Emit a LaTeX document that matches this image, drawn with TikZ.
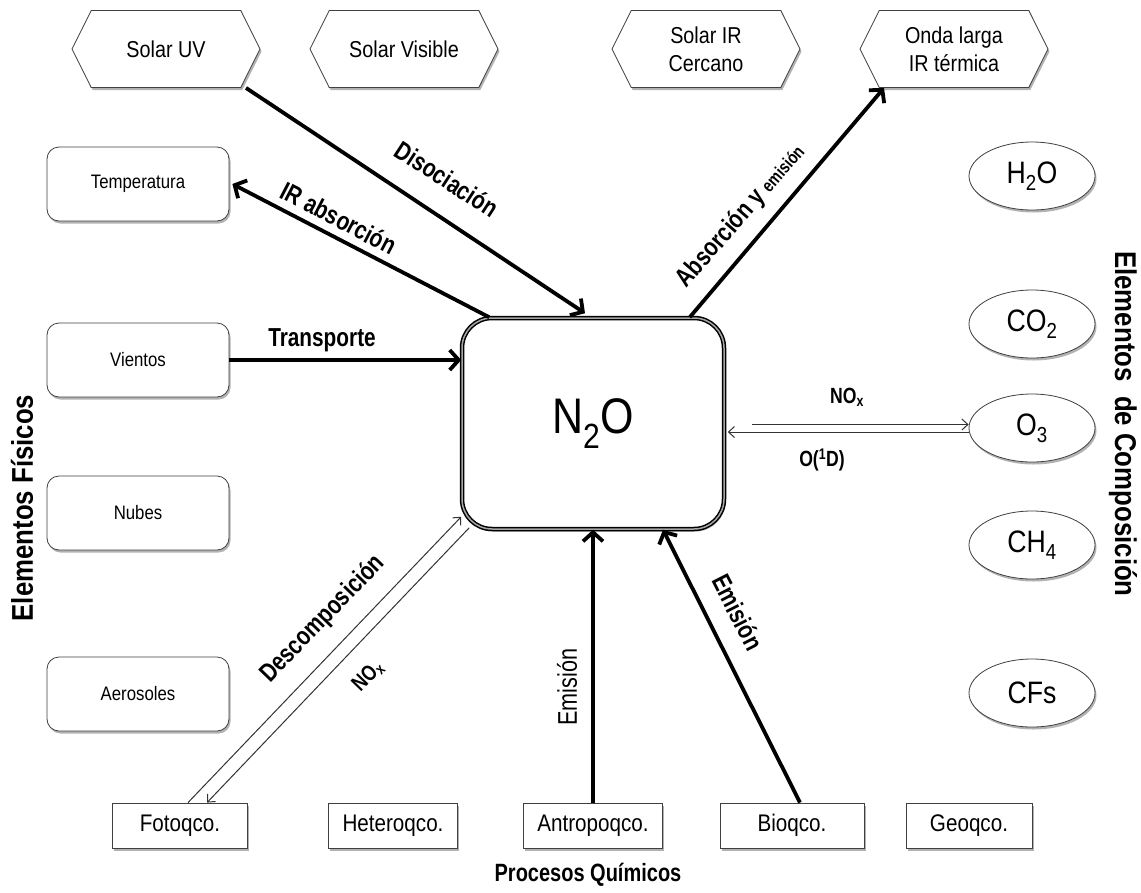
\documentclass[tikz,border=0pt]{standalone}
\usepackage{fontspec}
\setmainfont{Liberation Sans}[FakeStretch=0.86]
\newfontfamily\nfam{Liberation Sans}[FakeStretch=0.8]
\usetikzlibrary{shapes.geometric,shapes.symbols,arrows.meta,shadows}
\newcommand\hexfont{\fontsize{23}{28}\selectfont}
\newcommand\physfont{\fontsize{19.5}{22}\selectfont}
\newcommand\ellfont{\fontsize{31}{34}\selectfont}
\newcommand\procfont{\fontsize{24}{27}\selectfont}
\newcommand\cenfont{\fontsize{50}{54}\selectfont}
\newcommand\lblfont{\nfam\fontsize{26}{29}\selectfont\bfseries}
\newcommand\smlblfont{\nfam\fontsize{22}{25}\selectfont\bfseries}
\newcommand\ttlfont{\nfam\fontsize{25}{28}\selectfont\bfseries}
\newcommand\vttlfont{\fontsize{30}{33}\selectfont\bfseries}
\begin{document}
\begin{tikzpicture}[x=1pt,y=-1pt,
  shadowed/.style={drop shadow={shadow xshift=1.5pt,shadow yshift=-2.5pt,opacity=0.3,fill=black}},
  hexbox/.style={signal, signal to=west and east, signal pointer angle=127,
    draw=black!75, line width=0.8pt, fill=white, minimum width=188pt,
    minimum height=77pt, inner sep=0pt, align=center, font=\hexfont, shadowed},
  physbox/.style={rectangle, rounded corners=12pt, draw=black!75, line width=0.8pt,
    fill=white, minimum width=182pt, minimum height=74pt, font=\physfont, shadowed},
  compell/.style={ellipse, draw=black!75, line width=0.8pt, fill=white,
    minimum width=126pt, minimum height=68pt, inner sep=0pt, font=\ellfont, shadowed},
  procbox/.style={rectangle, draw=black!75, line width=0.8pt, fill=white,
    minimum height=45pt, inner sep=0pt, font=\procfont, shadowed},
  centralbox/.style={rectangle, rounded corners=30pt, draw=black, line width=1.5pt,
    double=black!35, double distance=1.5pt, fill=white, minimum width=262pt,
    minimum height=211pt, font=\cenfont, shadowed},
  bigarrow/.style={line width=3.8pt, -{Straight Barb[length=9pt,width=20pt]}},
  thinarrow/.style={line width=1pt, draw=black!80, -{Straight Barb[length=6pt,width=11pt]}},
  lbl/.style={font=\lblfont, inner sep=0pt},
  smlbl/.style={font=\smlblfont, inner sep=0pt},
  ttl/.style={font=\ttlfont, inner sep=0pt},
  vttl/.style={font=\vttlfont, inner sep=0pt}
]
\fill[white] (0,0) rectangle (1141,892);
\useasboundingbox (0,0) rectangle (1141,892);

% top hexagons
\node[hexbox] (uv) at (166,49) {Solar UV};
\node[hexbox] (vis) at (404,49) {Solar Visible};
\node[hexbox] (nir) at (706,49) {Solar IR\\Cercano};
\node[hexbox] (onda) at (954,49) {Onda larga\\IR térmica};

% physical elements
\node[physbox] (temp) at (138,184) {Temperatura};
\node[physbox] (vien) at (138,360) {Vientos};
\node[physbox] (nub) at (138,513) {Nubes};
\node[physbox] (aer) at (138,694) {Aerosoles};
\node[vttl, rotate=90] (fis) at (22,508) {Elementos Físicos};

% composition elements
\node[compell] (h2o) at (1032,176) {H\textsubscript{2}O};
\node[compell] (co2) at (1032,324) {CO\textsubscript{2}};
\node[compell] (o3) at (1032,428) {O\textsubscript{3}};
\node[compell] (ch4) at (1032,545) {CH\textsubscript{4}};
\node[compell] (cfs) at (1032,693) {CFs};
\node[vttl, rotate=-90] (comp) at (1123,424) {Elementos\ \ de Composición};

% central
\node[centralbox] (N) at (593,423.5) {N\textsubscript{2}O};

% chemical processes
\node[procbox, minimum width=135pt] (foto) at (180,825.5) {Fotoqco.};
\node[procbox, minimum width=129pt] (het) at (393,825.5) {Heteroqco.};
\node[procbox, minimum width=139pt] (antro) at (593,825.5) {Antropoqco.};
\node[procbox, minimum width=144pt] (bio) at (792,825.5) {Bioqco.};
\node[procbox, minimum width=126pt] (geo) at (969,825.5) {Geoqco.};
\node[ttl] (proc) at (588,875) {Procesos Químicos};

% connectors
\draw[bigarrow] ([xshift=80pt]uv.south) -- ([xshift=-8pt,yshift=4pt]N.north);
\node[lbl, rotate=-33] (l1) at (447,179) {Disociación};

\draw[bigarrow] ([xshift=28pt]N.north west) -- ([xshift=3pt]temp.east);
\node[lbl, rotate=-27.5] (l2) at (339,218) {IR absorción};

\draw[bigarrow] (vien.east) -- (vien.east -| N.west);
\node[lbl] (l3) at (322,340) {Transporte};

\draw[bigarrow] ([xshift=-35pt]N.north east) -- ([xshift=-70pt]onda.south);
\node[lbl, rotate=49] (l4) at (741,216) {Absorción y {\fontsize{18}{20}\selectfont emisión}};

\draw[bigarrow] (antro.north) -- (N.south);
\node[font=\nfam\fontsize{27}{30}\selectfont, inner sep=0pt, rotate=90] (l5) at (567,687) {Emisión};

\draw[bigarrow] ([xshift=8pt]bio.north) -- ([xshift=70pt]N.south);
\node[lbl, rotate=-63] (l6) at (738,612) {Emisión};

\draw[thinarrow] ([xshift=8pt]foto.north) -- ([yshift=13pt]N.south west);
\draw[thinarrow] ([xshift=8pt,yshift=2pt]N.south west) -- ([xshift=27pt]foto.north);
\node[lbl, rotate=46] (l7) at (323,619) {Descomposición};
\node[smlbl, rotate=46] (l8) at (368,676) {NO\textsubscript{x}};

\coordinate (Ro) at (N.east |- o3.west);
\draw[thinarrow] ([xshift=27pt,yshift=3.5pt]Ro) -- ([yshift=3.5pt]o3.west);
\draw[thinarrow] ([yshift=-4pt]o3.west) -- ([xshift=3pt,yshift=-4pt]Ro);
\node[smlbl] (l9) at (847,397) {NO\textsubscript{x}};
\node[smlbl] (l10) at (822,460) {O(\textsuperscript{1}D)};
\end{tikzpicture}
\end{document}
